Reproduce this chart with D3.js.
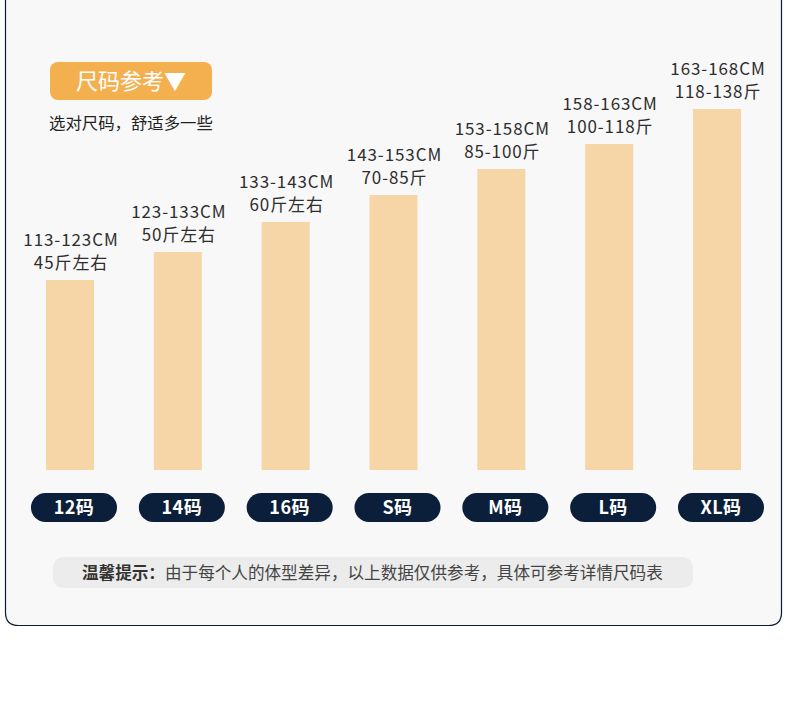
<!DOCTYPE html>
<html>
<head>
<meta charset="utf-8">
<script src="https://cdn.jsdelivr.net/npm/d3@7"></script>
<style>
  html, body { margin: 0; padding: 0; background: #fff; }
  svg { display: block; font-family: "Noto Sans CJK SC", "Noto Sans", sans-serif; }
</style>
</head>
<body>
<svg id="chart" width="790" height="711"></svg>
<script>
// size chart data
var sizes = ["12码", "14码", "16码", "S码", "M码", "L码", "XL码"];
var heightRanges = ["113-123CM", "123-133CM", "133-143CM", "143-153CM", "153-158CM", "158-163CM", "163-168CM"];
var weightRanges = ["45斤左右", "50斤左右", "60斤左右", "70-85斤", "85-100斤", "100-118斤", "118-138斤"];
// bar levels (relative units)
var barLevels = [190, 218, 248, 275, 301, 326, 361];

var width = 790;
var height = 711;
var svg = d3.select("#chart");

// panel background with border (top runs off the page)
var panelPath = (function(){
	var x0 = 5.5, x1 = 781.5, y0 = -20, y1 = 625.5, r = 13;
	return "M" + x0 + "," + y0 + " L" + x0 + "," + (y1 - r) +
		" Q" + x0 + "," + y1 + " " + (x0 + r) + "," + y1 +
		" L" + (x1 - r) + "," + y1 +
		" Q" + x1 + "," + y1 + " " + x1 + "," + (y1 - r) +
		" L" + x1 + "," + y0 + " Z";
})();
svg.append("path")
	.attr("d", panelPath)
	.attr("fill", "#f8f8f8")
	.attr("stroke", "#0d1b33")
	.attr("stroke-width", 1.2);

// header
svg.append("rect")
	.attr("x", 50).attr("y", 62)
	.attr("width", 162).attr("height", 38)
	.attr("rx", 8)
	.attr("fill", "#f4b04f");
svg.append("text")
	.attr("x", 131).attr("y", 89)
	.attr("text-anchor", "middle")
	.attr("fill", "#fff")
	.style("font-size", "22px")
	.text("尺码参考▼");
svg.append("text")
	.attr("x", 49).attr("y", 129)
	.attr("fill", "#222")
	.style("font-size", "16.4px")
	.text("选对尺码，舒适多一些");

// scales
var x = d3.scalePoint().domain(sizes).range([70, 717]);
var y = d3.scaleLinear().domain([0, 361]).range([470, 109]);
var barW = 48;

var g = svg.append("g").attr("class", "bars");

g.selectAll("rect")
	.data(barLevels)
	.join("rect")
	.attr("x", function(d, i) { return x(sizes[i]) - barW / 2; })
	.attr("y", function(d) { return y(d); })
	.attr("width", barW)
	.attr("height", function(d) { return y(0) - y(d); })
	.attr("fill", "#f6d6a6");

g.selectAll("text.h")
	.data(heightRanges)
	.join("text")
	.attr("class", "h")
	.attr("x", function(d, i) { return x(sizes[i]) + 1; })
	.attr("y", function(d, i) { return y(barLevels[i]) - 34; })
	.attr("text-anchor", "middle")
	.attr("fill", "#2e2e2e")
	.style("font-size", "17px")
	.style("letter-spacing", "0.9px")
	.text(function(d) { return d; });

g.selectAll("text.w")
	.data(weightRanges)
	.join("text")
	.attr("class", "w")
	.attr("x", function(d, i) { return x(sizes[i]) + 1; })
	.attr("y", function(d, i) { return y(barLevels[i]) - 11; })
	.attr("text-anchor", "middle")
	.attr("fill", "#2e2e2e")
	.style("font-size", "17px")
	.style("letter-spacing", "0.9px")
	.text(function(d) { return d; });

// size pills (sit slightly right of the bars)
var pills = svg.append("g").attr("class", "pills");
pills.selectAll("rect")
	.data(sizes)
	.join("rect")
	.attr("x", function(d) { return x(d) + 4 - 43; })
	.attr("y", 493)
	.attr("width", 86)
	.attr("height", 29)
	.attr("rx", 14.5)
	.attr("fill", "#0c1f3a");
pills.selectAll("text")
	.data(sizes)
	.join("text")
	.attr("x", function(d) { return x(d) + 4; })
	.attr("y", 514)
	.attr("text-anchor", "middle")
	.attr("fill", "#fff")
	.style("font-size", "18px")
	.style("font-weight", "bold")
	.style("letter-spacing", "0.5px")
	.text(function(d) { return d; });

// note
svg.append("rect")
	.attr("x", 53).attr("y", 557)
	.attr("width", 640).attr("height", 31)
	.attr("rx", 10)
	.attr("fill", "#ececec");
var note = svg.append("text")
	.attr("x", 82).attr("y", 579)
	.attr("fill", "#444")
	.style("font-size", "16.6px");
note.append("tspan").style("font-weight", "bold").attr("fill", "#333").text("温馨提示：");
note.append("tspan").text("由于每个人的体型差异，以上数据仅供参考，具体可参考详情尺码表");
</script>
</body>
</html>
